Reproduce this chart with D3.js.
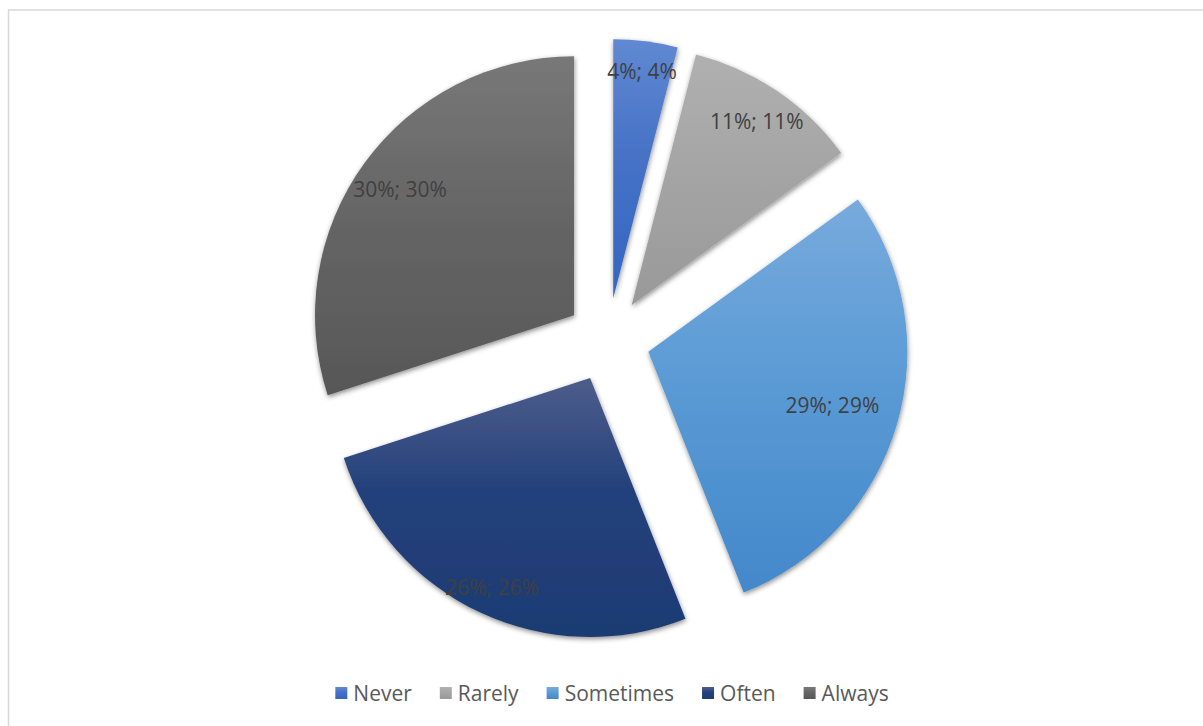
<!DOCTYPE html>
<html>
<head>
<meta charset="utf-8">
<script src="https://cdn.jsdelivr.net/npm/d3@7"></script>
<style>
  html, body { margin: 0; padding: 0; background: #ffffff; }
  svg { display: block; }
</style>
</head>
<body>
<svg id="chart" width="1203" height="726"></svg>
<script>
// Survey answer frequency (share of responses, %)
const categories = ["Never", "Rarely", "Sometimes", "Often", "Always"];
const values = [4, 11, 29, 26, 30];
const labels = ["4%; 4%", "11%; 11%", "29%; 29%", "26%; 26%", "30%; 30%"];

// Gradient fill per slice: [top, middle, bottom]
const fills = [
  ["#6089d2", "#4672c6", "#3366c2"],
  ["#b0b0b0", "#a5a5a5", "#999999"],
  ["#78aadd", "#5b9bd5", "#4388cb"],
  ["#4d5d8b", "#22407b", "#1e3b72"],
  ["#787878", "#666666", "#575757"]
];
// Label distance from each slice's tip, as a fraction of the radius
const labelFrac = [0.885, 0.86, 0.74, 0.89, 0.83];

const svg = d3.select("#chart");
const W = 1203, H = 726;

// Chart-area frame (only left and top edges fall inside the view)
svg.append("rect")
  .attr("x", 8.5).attr("y", 10)
  .attr("width", W + 20).attr("height", H + 20)
  .attr("fill", "#ffffff")
  .attr("stroke", "#d9d9d9").attr("stroke-width", 1.5);

const defs = svg.append("defs");
const shadow = defs.append("filter").attr("id", "sliceShadow")
  .attr("x", "-10%").attr("y", "-10%").attr("width", "120%").attr("height", "120%");
shadow.append("feDropShadow")
  .attr("dx", 0.5).attr("dy", 2).attr("stdDeviation", 2.6)
  .attr("flood-color", "#000").attr("flood-opacity", 0.45);

fills.forEach((f, i) => {
  const g = defs.append("linearGradient").attr("id", "grad" + i)
    .attr("x1", 0).attr("y1", 0).attr("x2", 0).attr("y2", 1);
  g.append("stop").attr("offset", "0%").attr("stop-color", f[0]);
  g.append("stop").attr("offset", "45%").attr("stop-color", f[1]);
  g.append("stop").attr("offset", "100%").attr("stop-color", f[2]);
});

const cx = 608, cy = 340, radius = 259, explode = 42;

const pie = d3.pie().sort(null).value(d => d)
  .startAngle(0).endAngle(2 * Math.PI);
const arcs = pie(values);
const arc = d3.arc().innerRadius(0).outerRadius(radius);

const plot = svg.append("g").attr("transform", `translate(${cx},${cy})`);

function offset(d, dist) {
  const a = (d.startAngle + d.endAngle) / 2;
  return [Math.sin(a) * dist, -Math.cos(a) * dist];
}

const slices = plot.selectAll("g.slice").data(arcs).enter().append("g")
  .attr("class", "slice")
  .attr("transform", d => { const o = offset(d, explode); return `translate(${o[0]},${o[1]})`; });

slices.append("path")
  .attr("d", arc)
  .attr("fill", (d, i) => `url(#grad${i})`)
  .attr("filter", "url(#sliceShadow)");

slices.append("text")
  .attr("transform", (d, i) => { const o = offset(d, radius * labelFrac[i]); return `translate(${o[0]},${o[1]})`; })
  .attr("text-anchor", "middle")
  .attr("dominant-baseline", "central")
  .attr("font-family", "'Open Sans', 'Noto Sans', sans-serif")
  .attr("font-size", 21)
  .attr("fill", "#404040")
  .text((d, i) => labels[i]);

// Legend, centred below the pie
const legend = svg.append("g").attr("class", "legend");
const items = legend.selectAll("g").data(categories).enter().append("g");
items.append("rect")
  .attr("width", 12).attr("height", 12)
  .attr("fill", (d, i) => `url(#grad${i})`);
items.append("text")
  .attr("x", 18).attr("y", 6)
  .attr("dominant-baseline", "central")
  .attr("font-family", "'Open Sans', 'Noto Sans', sans-serif")
  .attr("font-size", 21)
  .attr("fill", "#595959")
  .text(d => d);

let xPos = 0;
const gap = 28;
items.each(function () {
  const w = 18 + d3.select(this).select("text").node().getComputedTextLength();
  d3.select(this).attr("transform", `translate(${xPos},0)`);
  xPos += w + gap;
});
const total = xPos - gap;
legend.attr("transform", `translate(${612 - total / 2},${687})`);
</script>
</body>
</html>
